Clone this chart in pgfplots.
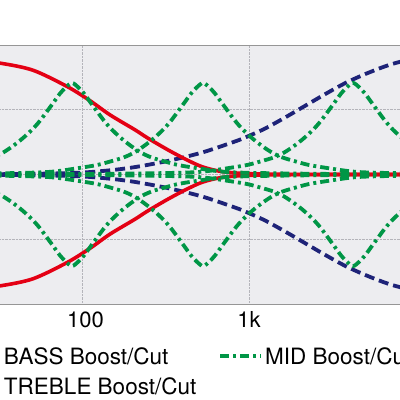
\documentclass[border=0pt]{standalone}
\usepackage{pgfplots}
\pgfplotsset{compat=1.18}
\usepackage{fontspec}
\setmainfont{TeX Gyre Heros}
\definecolor{cRed}{RGB}{228,0,20}
\definecolor{cBlue}{RGB}{30,35,120}
\definecolor{cGreen}{RGB}{0,150,70}
\definecolor{cBg}{RGB}{237,237,240}
\definecolor{cGrid}{RGB}{180,180,186}
\definecolor{cBorder}{RGB}{150,150,150}
\begin{document}
\begin{tikzpicture}
\useasboundingbox (0pt,0pt) rectangle (400pt,-400pt);
\begin{pgfinterruptboundingbox}
\begin{axis}[
  at={(-34.7pt,-304pt)}, anchor=south west,
  scale only axis, width=501pt, height=259pt,
  xmode=log, xmin=20, xmax=20000, ymin=-20, ymax=20,
  xtick={100,1000,10000}, xticklabels={\hspace{7pt}100,1k\hspace{14pt},10k},
  ytick={-10,0,10}, yticklabels={},
  grid=major, grid style={densely dotted, cGrid, line width=1pt},
  major tick length=0pt, minor tick length=0pt,
  axis line style={cBorder, line width=1pt},
  axis background/.style={fill=cBg},
  tick label style={font=\fontsize{22}{26}\selectfont},
  xticklabel style={yshift=-4pt},
  legend columns=2,
  legend cell align=left,
  legend style={draw=none, fill=none, font=\fontsize{22.5}{26}\selectfont,
    at={(axis description cs:-0.0166,-0.1583)}, anchor=north west,
    inner sep=0pt, row sep=8pt,
    /tikz/every even column/.append style={column sep=20pt}},
  legend image code/.code={\draw[#1] (0pt,0pt) -- (29pt,0pt); \path (0pt,0pt) -- (41pt,0pt);},
  every axis plot/.append style={smooth},
]
% TREBLE (blue dashed) - boost and cut
\addplot[cBlue, line width=3.8pt, dash pattern=on 10pt off 5pt, forget plot] coordinates {
(20,0.03)(32.3,0.05)(64.3,0.15)(100,0.3)(147,0.65)(208,1.15)(327,2.1)(524,3.4)(824,5.1)(986,5.9)(1247,7.1)(1643,8.8)(2164,10.6)(2851,12.4)(3757,14.1)(4950,15.5)(6518,16.7)(8014,17.4)(12130,18.5)(20000,19.2)};
\addplot[cBlue, line width=3.8pt, dash pattern=on 10pt off 5pt, forget plot] coordinates {
(20,-0.03)(32.3,-0.05)(64.3,-0.15)(100,-0.3)(147,-0.65)(208,-1.15)(327,-2.1)(524,-3.4)(824,-5.1)(986,-5.9)(1247,-7.1)(1643,-8.8)(2164,-10.6)(2851,-12.4)(3757,-14.1)(4950,-15.5)(6518,-16.7)(8014,-17.4)(12130,-18.5)(20000,-19.2)};
% BASS (red solid)
\addplot[cRed, line width=3.6pt] coordinates {
(20,17.8)(32.3,17.2)(50.9,16.1)(81.3,13.6)(111.6,11.4)(147.2,9.2)(207.6,6.9)(248.4,5.6)(327.2,3.8)(413.9,2.4)(523.6,1.2)(689,0.45)(1014,0.12)(2019,0.02)(5000,0)(20000,0)};
\addlegendentry{BASS Boost/Cut}
\addplot[cRed, line width=3.6pt, forget plot] coordinates {
(20,-17.8)(32.3,-17.2)(50.9,-16.1)(81.3,-13.6)(111.6,-11.4)(147.2,-9.2)(207.6,-6.9)(248.4,-5.6)(327.2,-3.8)(413.9,-2.4)(523.6,-1.2)(689,-0.45)(1014,-0.12)(2019,-0.02)(5000,0)(20000,0)};
% MID (green dash-dot)
\addplot[cGreen, line width=3.8pt, dash pattern=on 9pt off 4pt on 3pt off 4pt] coordinates {
(20,1.45)(24.2,2.0)(28.9,2.6)(33.2,3.3)(38.1,4.3)(43.7,5.5)(50.1,6.9)(56.0,8.3)(66.1,10.8)(73.8,12.5)(80.2,13.5)(87.1,14.15)(94.6,13.5)(102.8,12.5)(114.8,10.8)(135.5,8.3)(151.4,6.9)(173.4,5.5)(199.1,4.3)(228.6,3.3)(262.4,2.6)(314.1,2.0)(370.7,1.5)(456.1,1.1)(688.7,0.45)(1042.6,0.25)(2735,0.1)(10861,0)(20000,0)};
\addlegendentry{MID Boost/Cut}
\addplot[cGreen, line width=3.8pt, dash pattern=on 9pt off 4pt on 3pt off 4pt, forget plot] coordinates {
(20,-1.45)(24.2,-2.0)(28.9,-2.6)(33.2,-3.3)(38.1,-4.3)(43.7,-5.5)(50.1,-6.9)(56.0,-8.3)(66.1,-10.8)(73.8,-12.5)(80.2,-13.5)(87.1,-14.15)(94.6,-13.5)(102.8,-12.5)(114.8,-10.8)(135.5,-8.3)(151.4,-6.9)(173.4,-5.5)(199.1,-4.3)(228.6,-3.3)(262.4,-2.6)(314.1,-2.0)(370.7,-1.5)(456.1,-1.1)(688.7,-0.45)(1042.6,-0.25)(2735,-0.1)(10861,0)(20000,0)};
\addplot[cGreen, line width=3.8pt, dash pattern=on 9pt off 4pt on 3pt off 4pt, forget plot] coordinates {
(20,0.1)(44.3,0.25)(67.1,0.45)(101.3,1.1)(124.6,1.5)(147.1,2.0)(176.0,2.6)(202.1,3.3)(232.0,4.3)(266.4,5.5)(305.2,6.9)(340.9,8.3)(402.4,10.8)(449.5,12.5)(488.4,13.5)(530.4,14.15)(576.0,13.5)(625.9,12.5)(699.1,10.8)(825.3,8.3)(921.8,6.9)(1056.0,5.5)(1212.5,4.3)(1391.8,3.3)(1598.1,2.6)(1912.6,2.0)(2257.4,1.5)(2777.2,1.1)(4193.9,0.45)(6348.9,0.25)(16655,0.1)(20000,0.08)};
\addplot[cGreen, line width=3.8pt, dash pattern=on 9pt off 4pt on 3pt off 4pt, forget plot] coordinates {
(20,-0.1)(44.3,-0.25)(67.1,-0.45)(101.3,-1.1)(124.6,-1.5)(147.1,-2.0)(176.0,-2.6)(202.1,-3.3)(232.0,-4.3)(266.4,-5.5)(305.2,-6.9)(340.9,-8.3)(402.4,-10.8)(449.5,-12.5)(488.4,-13.5)(530.4,-14.15)(576.0,-13.5)(625.9,-12.5)(699.1,-10.8)(825.3,-8.3)(921.8,-6.9)(1056.0,-5.5)(1212.5,-4.3)(1391.8,-3.3)(1598.1,-2.6)(1912.6,-2.0)(2257.4,-1.5)(2777.2,-1.1)(4193.9,-0.45)(6348.9,-0.25)(16655,-0.1)(20000,-0.08)};
\addplot[cGreen, line width=3.8pt, dash pattern=on 9pt off 4pt on 3pt off 4pt, forget plot] coordinates {
(20,0.02)(133.6,0.1)(350.5,0.25)(530.7,0.45)(801.4,1.1)(985.9,1.5)(1163.6,2.0)(1392.6,2.6)(1599.1,3.3)(1835.5,4.3)(2107.5,5.5)(2414.3,6.9)(2696.7,8.3)(3183.6,10.8)(3555.9,12.5)(3863.7,13.5)(4196,14.15)(4556.9,13.5)(4951,12.5)(5530,10.8)(6529,8.3)(7293,6.9)(8354,5.5)(9592,4.3)(11010,3.3)(12643,2.6)(15131,2.0)(17858,1.5)(20000,1.3)};
\addplot[cGreen, line width=3.8pt, dash pattern=on 9pt off 4pt on 3pt off 4pt, forget plot] coordinates {
(20,-0.02)(133.6,-0.1)(350.5,-0.25)(530.7,-0.45)(801.4,-1.1)(985.9,-1.5)(1163.6,-2.0)(1392.6,-2.6)(1599.1,-3.3)(1835.5,-4.3)(2107.5,-5.5)(2414.3,-6.9)(2696.7,-8.3)(3183.6,-10.8)(3555.9,-12.5)(3863.7,-13.5)(4196,-14.15)(4556.9,-13.5)(4951,-12.5)(5530,-10.8)(6529,-8.3)(7293,-6.9)(8354,-5.5)(9592,-4.3)(11010,-3.3)(12643,-2.6)(15131,-2.0)(17858,-1.5)(20000,-1.3)};
\addlegendimage{cBlue, line width=3.8pt, dash pattern=on 10pt off 5pt}
\addlegendentry{TREBLE Boost/Cut}
\end{axis}
\end{pgfinterruptboundingbox}
\end{tikzpicture}
\end{document}
